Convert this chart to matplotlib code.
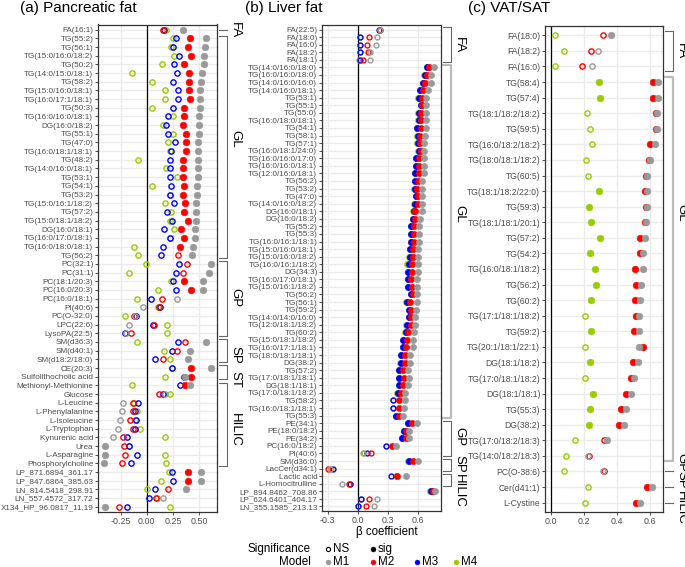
import matplotlib
matplotlib.use("Agg")
import matplotlib.pyplot as plt
import matplotlib.transforms as mtransforms
import numpy as np

plt.rcParams['font.family'] = ['Liberation Sans', 'DejaVu Sans']

W, H = 685, 567

# ---------------- Panel (a) Pancreatic fat ----------------
a_labels = ["FA(16:1)", "TG(55:2)", "TG(56:1)", "TG(15:0/16:0/18:2)", "TG(50:2)",
            "TG(14:0/15:0/18:1)", "TG(58:2)", "TG(15:0/16:0/18:1)", "TG(16:0/17:1/18:1)",
            "TG(50:3)", "TG(16:0/16:0/18:1)", "DG(16:0/18:2)", "TG(55:1)", "TG(47:0)",
            "TG(16:0/18:1/18:1)", "TG(48:2)", "TG(14:0/16:0/18:1)", "TG(53:1)", "TG(54:1)",
            "TG(53:2)", "TG(15:0/16:1/18:2)", "TG(57:2)", "TG(15:0/18:1/18:2)", "DG(16:0/18:1)",
            "TG(16:0/17:0/18:1)", "TG(16:0/18:0/18:1)", "TG(56:2)", "PC(32:1)", "PC(31:1)",
            "PC(18:1/20:3)", "PC(16:0/20:3)", "PC(16:0/18:1)", "PI(40:6)", "PC(O-32:0)",
            "LPC(22:6)", "LysoPA(22:5)", "SM(d36:3)", "SM(d40:1)", "SM(d18:2/18:0)",
            "CE(20:3)", "Sulfolithocholic acid", "Methionyl-Methionine", "Glucose",
            "L-Leucine", "L-Phenylalanine", "L-Isoleucine", "L-Tryptophan", "Kynurenic acid",
            "Urea", "L-Asparagine", "Phosphorylcholine", "LP_871.6894_361.17",
            "LP_847.6864_385.63", "LN_814.5418_298.91", "LN_557.4572_317.72",
            "X134_HP_96.0817_11.19"]
a_m1 = [0.35, 0.567, 0.555, 0.545, 0.545, 0.532, 0.522, 0.513, 0.513, 0.513, 0.503, 0.503,
        0.503, 0.49, 0.49, 0.487, 0.487, 0.49, 0.48, 0.48, 0.471, 0.471, 0.468, 0.458, 0.458,
        0.446, 0.433, 0.615, 0.60, 0.542, 0.542, 0.292, -0.038, -0.11, -0.173, -0.195, 0.567,
        0.41, 0.39, 0.619, 0.362, 0.41, 0.17, -0.228, -0.237, -0.256, -0.272, -0.324, -0.397,
        -0.397, -0.407, 0.519, 0.519, 0.378, 0.154, -0.397]
a_m2 = [0.154, 0.41, 0.39, 0.423, 0.353, 0.40, 0.40, 0.40, 0.41, 0.353, 0.353, 0.343, 0.372,
        0.372, 0.378, 0.343, 0.343, 0.346, 0.356, 0.346, 0.369, 0.356, 0.391, 0.324, 0.356,
        0.314, 0.298, 0.388, 0.343, 0.356, 0.423, 0.147, 0.112, -0.122, 0.064, -0.15, 0.365,
        0.288, 0.157, 0.423, 0.423, 0.362, 0.115, -0.128, -0.128, -0.16, -0.135, -0.228,
        -0.215, -0.205, -0.237, 0.391, 0.391, 0.202, 0.09, -0.263]
a_m3 = [0.16, 0.276, 0.25, 0.31, 0.263, 0.288, 0.253, 0.298, 0.298, 0.253, 0.202, 0.183,
        0.202, 0.266, 0.23, 0.22, 0.22, 0.22, 0.234, 0.224, 0.263, 0.192, 0.244, 0.167, 0.22,
        0.154, 0.135, 0.31, 0.279, 0.253, 0.279, 0.038, 0.122, -0.106, 0.058, -0.205, 0.298,
        0.244, 0.08, 0.244, 0.353, 0.32, 0.154, -0.083, -0.115, -0.103, -0.112, -0.186,
        -0.167, -0.096, -0.151, 0.244, 0.253, 0.08, 0.019, -0.186]
a_m4 = [0.18, 0.25, 0.23, 0.256, 0.147, -0.138, 0.048, 0.176, 0.176, 0.048, 0.253, 0.154,
        0.247, 0.202, 0.22, -0.087, 0.186, 0.288, 0.048, 0.22, 0.176, 0.234, 0.224, 0.256,
        0.22, -0.119, -0.087, -0.01, -0.173, 0.234, 0.103, -0.096, 0.103, -0.205, 0.189,
        0.189, -0.096, 0.167, 0.221, 0.237, 0.176, -0.141, 0.224, -0.122, -0.096, -0.11,
        -0.061, 0.176, -0.167, 0.176, 0.186, 0.208, 0.135, 0.0, 0.096, 0.221]
# S = significant (filled), N = not significant (open)
a_sig_m1 = "S" "SSSSSSSSSSSSSSSSSSSSSSSSSS" "SSSSNNNNN" "SSS" "SS" "SNNNNNNSSS" "SSSNS"
a_sig_m2 = "N" "SSSSSSSSSSSSSSSSSSSSSSSSSN" "NNSSNNNNN" "NNN" "SS" "SNNNNNNNNN" "SSNNN"
a_sig_m3 = "N" "NNNNNNNNNNNNNNNNNNNNNNNNNN" "NNNNNNNNN" "NNN" "NN" "NNNNNNNNNN" "NNNNN"
a_sig_m4 = "N" "NNNNNNNNNNNNNNNNNNNNNNNNNN" "NNNNNNNNN" "NNN" "NN" "NNNNNNNNNN" "NNNNN"
a_groups = [("FA", 1, 1), ("GL", 2, 27), ("GP", 28, 36), ("SP", 37, 39),
            ("ST", 40, 41), ("HILIC", 42, 51)]
a_group_label_rows = [1.0, 13.6, 31.9, 38.5, 41.3, 47.2]
a_xticks = [-0.25, 0.0, 0.25, 0.50]
a_xticklabels = ["-0.25", "0.00", "0.25", "0.50"]

# ---------------- Panel (b) Liver fat ----------------
b_labels = ["FA(22:5)", "FA(18:0)", "FA(16:0)", "FA(18:2)", "FA(18:1)",
            "TG(14:0/16:0/18:0)", "TG(16:0/16:0/18:0)", "TG(14:0/16:0/16:0)",
            "TG(14:0/16:0/18:1)", "TG(53:1)", "TG(55:1)", "TG(55:0)", "TG(16:0/18:0/18:1)",
            "TG(54:1)", "TG(58:1)", "TG(57:1)", "TG(16:0/18:1/24:0)", "TG(16:0/16:0/17:0)",
            "TG(16:0/16:0/18:1)", "TG(12:0/16:0/18:1)", "TG(56:2)", "TG(53:2)", "TG(47:0)",
            "TG(14:0/16:0/18:2)", "DG(16:0/18:1)", "DG(16:0/18:2)", "TG(55:2)", "TG(55:3)",
            "TG(16:0/16:1/18:1)", "TG(15:0/16:0/18:1)", "TG(15:0/16:0/18:2)",
            "TG(16:0/16:1/18:2)", "DG(34:3)", "TG(16:0/17:0/18:1)", "TG(15:0/16:1/18:2)",
            "TG(56:2)", "TG(56:1)", "TG(59:2)", "TG(14:0/14:0/16:0)", "TG(12:0/18:1/18:2)",
            "TG(60:2)", "TG(15:0/18:1/18:2)", "TG(16:0/17:1/18:1)", "TG(18:0/18:1/18:1)",
            "DG(38:2)", "TG(57:2)", "TG(17:0/18:1/18:1)", "DG(18:1/18:1)",
            "TG(17:0/18:1/18:2)", "TG(58:2)", "TG(16:0/18:1/18:1)", "TG(55:3)", "PE(34:1)",
            "PE(18:0/18:2)", "PE(34:2)", "PC(16:0/18:2)", "PI(40:6)", "SM(d36:0)",
            "LacCer(d34:1)", "Lactic acid", "L-Homocitrulline", "LP_894.8462_708.86",
            "LP_624.6401_404.17", "LN_355.1585_213.13"]
b_m1 = [0.225, 0.19, 0.177, 0.117, 0.117, 0.757, 0.73, 0.73, 0.697, 0.68, 0.683, 0.677,
        0.677, 0.677, 0.667, 0.66, 0.66, 0.657, 0.657, 0.657, 0.64, 0.64, 0.64, 0.64, 0.64,
        0.617, 0.607, 0.607, 0.607, 0.60, 0.60, 0.597, 0.597, 0.59, 0.59, 0.59, 0.59, 0.583,
        0.573, 0.573, 0.557, 0.547, 0.547, 0.523, 0.517, 0.50, 0.507, 0.497, 0.467, 0.467,
        0.46, 0.45, 0.587, 0.513, 0.513, 0.383, 0.047, 0.597, -0.28, 0.477, -0.153, 0.773,
        0.19, 0.163]
b_m2 = [0.22, 0.107, 0.087, 0.10, 0.05, 0.713, 0.69, 0.673, 0.647, 0.64, 0.64, 0.633, 0.633,
        0.627, 0.623, 0.62, 0.627, 0.613, 0.613, 0.607, 0.60, 0.593, 0.60, 0.597, 0.573,
        0.573, 0.56, 0.557, 0.563, 0.553, 0.55, 0.54, 0.54, 0.533, 0.54, 0.547, 0.523, 0.53,
        0.527, 0.527, 0.50, 0.49, 0.483, 0.473, 0.473, 0.45, 0.463, 0.45, 0.43, 0.407, 0.407,
        0.413, 0.54, 0.48, 0.477, 0.34, 0.13, 0.547, -0.30, 0.39, -0.083, 0.747, 0.107, 0.077]
b_m3 = [0.215, 0.027, 0.027, 0.027, 0.02, 0.693, 0.667, 0.653, 0.62, 0.607, 0.63, 0.607,
        0.607, 0.593, 0.597, 0.597, 0.607, 0.583, 0.583, 0.573, 0.573, 0.567, 0.58, 0.567,
        0.557, 0.55, 0.53, 0.53, 0.53, 0.523, 0.517, 0.507, 0.50, 0.50, 0.50, 0.533, 0.487,
        0.513, 0.51, 0.487, 0.48, 0.453, 0.452, 0.433, 0.433, 0.41, 0.41, 0.41, 0.397, 0.35,
        0.35, 0.38, 0.50, 0.46, 0.44, 0.283, 0.087, 0.513, -0.247, 0.333, -0.077, 0.727,
        0.037, 0.007]
b_m4 = [0.22, 0.025, 0.02, 0.027, 0.013, 0.69, 0.665, 0.65, 0.618, 0.605, 0.628, 0.605,
        0.605, 0.59, 0.595, 0.595, 0.605, 0.58, 0.58, 0.57, 0.57, 0.565, 0.578, 0.565, 0.547,
        0.548, 0.528, 0.528, 0.528, 0.52, 0.515, 0.493, 0.498, 0.498, 0.498, 0.53, 0.485,
        0.51, 0.508, 0.485, 0.473, 0.45, 0.45, 0.43, 0.42, 0.408, 0.408, 0.408, 0.395, 0.35,
        0.35, 0.378, 0.498, 0.458, 0.438, 0.28, 0.06, 0.50, -0.27, 0.38, -0.08, 0.725,
        0.035, 0.005]
b_sig_m1 = ("NNNNN" "SSSSSSSSSS" "SSSSSSSSSS" "SSSSSSSSSS" "SSSSSSSSSS" "SSSSSSS"
            "SSSSN" "SN" "SN" "SNN")
b_sig_m2 = ("NNNNN" "SSSSSSSSSS" "SSSSSSSSSS" "SSSSSSSSSS" "SSSSSSSSSS" "SSSSSSS"
            "SSSSN" "SN" "SN" "SNN")
b_sig_m3 = ("NNNNN" "SSSSSSSSSS" "SSSSSSSSSS" "SSSSSSSSSS" "SSSSSSSSSS" "SSSSNNS"
            "SSSNN" "SN" "NN" "SNN")
b_sig_m4 = ("NNNNN" "SSSSSSSSSS" "SSSSSSSSSS" "SSSSSSSSSS" "SSSSSSSSSS" "SSSSNNS"
            "SSSNN" "SN" "SN" "SNN")
b_groups = [("FA", 1, 5), ("GL", 6, 52), ("GP", 53, 57), ("SP", 58, 59), ("HILIC", 60, 61)]
b_group_label_rows = [3.0, 25.3, 54.8, 58.4, 62.0]
b_xticks = [-0.3, 0.0, 0.3, 0.6]
b_xticklabels = ["-0.3", "0.0", "0.3", "0.6"]

# ---------------- Panel (c) VAT/SAT ----------------
c_labels = ["FA(18:0)", "FA(18:2)", "FA(16:0)", "TG(58:4)", "TG(57:4)", "TG(18:1/18:2/18:2)",
            "TG(59:5)", "TG(16:0/18:2/18:2)", "TG(18:0/18:1/18:2)", "TG(60:5)",
            "TG(18:1/18:2/22:0)", "TG(59:3)", "TG(18:1/18:1/20:1)", "TG(57:2)", "TG(54:2)",
            "TG(16:0/18:1/18:2)", "TG(56:2)", "TG(60:2)", "TG(17:1/18:1/18:2)", "TG(59:2)",
            "TG(20:1/18:1/22:1)", "DG(18:1/18:2)", "TG(17:0/18:1/18:2)", "DG(18:1/18:1)",
            "TG(55:3)", "DG(38:2)", "TG(17:0/18:2/18:3)", "TG(14:0/18:2/18:3)", "PC(O-38:6)",
            "Cer(d41:1)", "L-Cystine"]
c_m1 = [0.367, 0.284, 0.247, 0.651, 0.651, 0.645, 0.643, 0.631, 0.604, 0.582, 0.582, 0.582,
        0.576, 0.568, 0.56, 0.556, 0.548, 0.542, 0.533, 0.533, 0.533, 0.527, 0.507, 0.487,
        0.458, 0.442, 0.341, 0.227, 0.318, 0.611, 0.54]
c_m2 = [0.316, 0.241, 0.19, 0.621, 0.617, 0.635, 0.635, 0.602, 0.595, 0.575, 0.572, 0.575,
        0.57, 0.54, 0.54, 0.513, 0.519, 0.513, 0.519, 0.505, 0.558, 0.499, 0.485, 0.458,
        0.424, 0.414, 0.323, 0.229, 0.32, 0.584, 0.519]
c_m4 = [0.022, 0.081, 0.024, 0.294, 0.298, 0.219, 0.235, 0.247, 0.213, 0.227, 0.292, 0.229,
        0.243, 0.298, 0.237, 0.27, 0.272, 0.243, 0.209, 0.243, 0.209, 0.237, 0.209, 0.256,
        0.237, 0.229, 0.144, 0.089, 0.079, 0.227, 0.207]
c_sig_m1 = "SNN" "SSSSSSSSSSSSSSSSSSSSSSSSN" "N" "S" "S"
c_sig_m2 = "NNN" "SSSSSSSSSSSSSSSSSSSSSSSNN" "N" "S" "S"
c_sig_m4 = "NNN" "SSNNNNNSSSSSSSSNSNSNSSSNN" "N" "N" "N"
c_groups = [("FA", 1, 3), ("GL", 4, 28), ("GP", 29, 29), ("SP", 30, 30), ("HILIC", 31, 31)]
c_group_label_rows = [2.0, 12.4, 28.4, 29.55, 31.35]
c_xticks = [0.0, 0.2, 0.4, 0.6]
c_xticklabels = ["0.0", "0.2", "0.4", "0.6"]

models = ["M1", "M2", "M3", "M4"]
model_colors = {"M1": "#999999", "M2": "#FF0000", "M3": "#0000FF", "M4": "#99CC00"}

fig = plt.figure(figsize=(W / 100, H / 100), dpi=100)


def px_rect(left, top, right, bottom):
    return [left / W, 1 - bottom / H, (right - left) / W, (bottom - top) / H]


def draw_panel(rect, labels, series, sigs, xlim, xticks, xticklabels, groups,
               label_rows, light_groups, ylab_fs, ms):
    ax = fig.add_axes(px_rect(*rect))
    n = len(labels)
    y = np.arange(1, n + 1)
    ax.set_xlim(*xlim)
    ax.set_ylim(n + 0.6, 0.4)
    ax.set_yticks(y)
    ax.set_yticklabels(labels)
    ax.set_xticks(xticks)
    ax.set_xticklabels(xticklabels)
    ax.grid(True, color="#EBEBEB", lw=1.0)
    ax.set_axisbelow(True)
    ax.tick_params(axis="y", length=2.2, width=0.6, color="#333333", pad=1.2,
                   labelsize=ylab_fs, labelcolor="#4D4D4D")
    ax.tick_params(axis="x", length=2.2, width=0.6, color="#333333", pad=1.5,
                   labelsize=6.4, labelcolor="#4D4D4D")
    for s in ax.spines.values():
        s.set_color("#333333")
        s.set_linewidth(0.9)
    ax.axvline(0, color="black", lw=0.9, zorder=1.5)
    for m in ["M4", "M3", "M2", "M1"]:
        if m not in series:
            continue
        vals = np.array(series[m], dtype=float)
        sig = np.array([c == "S" for c in sigs[m]])
        col = model_colors[m]
        ax.plot(vals[sig], y[sig], "o", ls="none", ms=ms, mfc=col, mec=col, mew=0.4,
                zorder=3)
        ax.plot(vals[~sig], y[~sig], "o", ls="none", ms=ms - 1.0, mfc="none", mec=col,
                mew=1.0, zorder=3)
    # group brackets
    ax_w = rect[2] - rect[0]
    trans = mtransforms.blended_transform_factory(ax.transAxes, ax.transData)
    x0 = 1 + 2 / ax_w
    x1 = 1 + 10 / ax_w
    xt = 1 + 12 / ax_w
    for (name, first, last), ly in zip(groups, label_rows):
        light = name in light_groups
        col = "#BBBBBB" if light else "#666666"
        lw = 1.6 if light else 0.8
        if first == last:
            ax.plot([x0, x1], [first, first], color=col, lw=lw, transform=trans,
                    clip_on=False)
        else:
            ya, yb = first - 0.3, last + 0.3
            ax.plot([x0, x1, x1, x0], [ya, ya, yb, yb], color=col, lw=lw,
                    transform=trans, clip_on=False)
        ax.text(xt, ly, name, transform=trans, rotation=270,
                ha="left", va="center", fontsize=9.5, color="black", clip_on=False)
    return ax


ax_a = draw_panel((98, 24.5, 217, 512), a_labels,
                  {"M1": a_m1, "M2": a_m2, "M3": a_m3, "M4": a_m4},
                  {"M1": a_sig_m1, "M2": a_sig_m2, "M3": a_sig_m3, "M4": a_sig_m4},
                  (-0.468, 0.672), a_xticks, a_xticklabels, a_groups, a_group_label_rows,
                  [], 5.9, 4.8)
ax_b = draw_panel((322, 25, 441, 511), b_labels,
                  {"M1": b_m1, "M2": b_m2, "M3": b_m3, "M4": b_m4},
                  {"M1": b_sig_m1, "M2": b_sig_m2, "M3": b_sig_m3, "M4": b_sig_m4},
                  (-0.357, 0.83), b_xticks, b_xticklabels, b_groups, b_group_label_rows,
                  ["GL"], 5.9, 4.5)
ax_c = draw_panel((545, 26, 663, 512), c_labels,
                  {"M1": c_m1, "M2": c_m2, "M4": c_m4},
                  {"M1": c_sig_m1, "M2": c_sig_m2, "M4": c_sig_m4},
                  (-0.036, 0.68), c_xticks, c_xticklabels, c_groups, c_group_label_rows,
                  ["GL"], 6.2, 4.8)

# titles
fig.text(20 / W, 1 - 11.7 / H, "(a) Pancreatic fat", fontsize=11, va="baseline", ha="left")
fig.text(245 / W, 1 - 11.7 / H, "(b) Liver fat", fontsize=11, va="baseline", ha="left")
fig.text(468 / W, 1 - 11.7 / H, "(c) VAT/SAT", fontsize=11, va="baseline", ha="left")

# overlay for x label and legend (pixel coordinates)
ov = fig.add_axes([0, 0, 1, 1], facecolor="none")
ov.set_xlim(0, W)
ov.set_ylim(H, 0)
ov.axis("off")
ov.text(387, 532, "β coefficient", fontsize=8.3, ha="center", va="center")

ov.text(311, 549, "Significance", fontsize=8.4, ha="right", va="center")
ov.plot([328], [549], "o", ms=3.0, mfc="none", mec="black", mew=0.8)
ov.text(333, 549, "NS", fontsize=8.4, ha="left", va="center")
ov.plot([373], [549], "o", ms=3.6, mfc="black", mec="black", mew=0.3)
ov.text(378, 549, "sig", fontsize=8.4, ha="left", va="center")

ov.text(311, 562, "Model", fontsize=8.4, ha="right", va="center")
legend_x = {"M1": 328, "M2": 373, "M3": 417, "M4": 456}
for m in models:
    ov.plot([legend_x[m]], [562], "o", ms=3.6, mfc=model_colors[m], mec=model_colors[m],
            mew=0.3)
    ov.text(legend_x[m] + 5, 562, m, fontsize=8.4, ha="left", va="center")

fig.savefig("out.png", dpi=100)
